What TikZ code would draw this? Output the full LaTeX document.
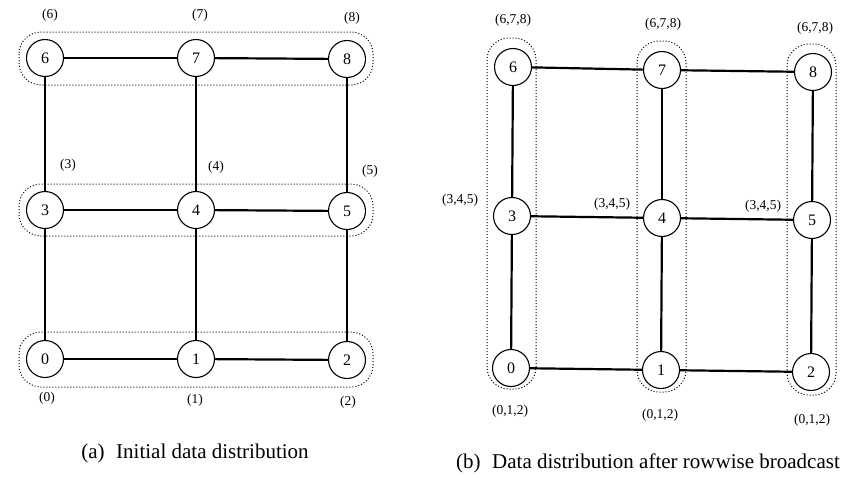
\documentclass[tikz,border=0pt]{standalone}
\usepackage{fontspec}
\setmainfont{Liberation Serif}
\begin{document}
\begin{tikzpicture}[x=1pt,y=-1pt,
  pe/.style={circle, draw, line width=1.1pt, fill=white, minimum size=37pt, inner sep=0pt, font=\fontsize{16}{16}\selectfont},
  link/.style={line width=2.2pt},
  grp/.style={draw, dotted, line width=1pt, rounded corners=22pt},
  lab/.style={font=\fontsize{13.5}{13.5}\selectfont, inner sep=0pt},
  captext/.style={font=\fontsize{21}{21}\selectfont, inner sep=0pt}]
\useasboundingbox (0,0) rectangle (845,477);
% ---------- (a) ----------
\node[pe] (a0) at (45,359) {0};
\node[pe] (a1) at (196,359) {1};
\node[pe] (a2) at (347,360) {2};
\node[pe] (a3) at (45,210) {3};
\node[pe] (a4) at (196,210) {4};
\node[pe] (a5) at (347,211) {5};
\node[pe] (a6) at (45,58) {6};
\node[pe] (a7) at (196,58) {7};
\node[pe] (a8) at (347,59) {8};
\foreach \p/\q in {a0/a1,a1/a2,a3/a4,a4/a5,a6/a7,a7/a8,a0/a3,a3/a6,a1/a4,a4/a7,a2/a5,a5/a8}
  \draw[link] (\p) -- (\q);
\draw[grp] ([shift={(-26,-26)}]a6.center) rectangle ([shift={(26,26)}]a8.center);
\draw[grp] ([shift={(-26,-26)}]a3.center) rectangle ([shift={(26,25)}]a5.center);
\draw[grp] ([shift={(-26,-27)}]a0.center) rectangle ([shift={(26,27)}]a2.center);
\node[lab] (la6) at (50,15) {(6)};
\node[lab] (la7) at (200,15) {(7)};
\node[lab] (la8) at (352,18) {(8)};
\node[lab] (la3) at (68,165) {(3)};
\node[lab] (la4) at (216,167) {(4)};
\node[lab] (la5) at (370,171) {(5)};
\node[lab] (la0) at (47,398) {(0)};
\node[lab] (la1) at (195,400) {(1)};
\node[lab] (la2) at (348,402) {(2)};
\node[captext] (capa) at (195,453) {(a)\hspace{0.55em}Initial data distribution};
% ---------- (b) ----------
\node[pe] (b0) at (511,368) {0};
\node[pe] (b1) at (661,370) {1};
\node[pe] (b2) at (811,372) {2};
\node[pe] (b3) at (512,216) {3};
\node[pe] (b4) at (662,218) {4};
\node[pe] (b5) at (812,220) {5};
\node[pe] (b6) at (513,67) {6};
\node[pe] (b7) at (662,70) {7};
\node[pe] (b8) at (813,72) {8};
\foreach \p/\q in {b0/b1,b1/b2,b3/b4,b4/b5,b6/b7,b7/b8,b0/b3,b3/b6,b1/b4,b4/b7,b2/b5,b5/b8}
  \draw[link] (\p) -- (\q);
\draw[grp] ([shift={(-26,-29)}]b6.center) rectangle ([shift={(25,21)}]b0.center);
\draw[grp] ([shift={(-25,-29)}]b7.center) rectangle ([shift={(25,22)}]b1.center);
\draw[grp] ([shift={(-26,-28)}]b8.center) rectangle ([shift={(25,23)}]b2.center);
\node[lab] (lb6) at (513,20) {(6,7,8)};
\node[lab] (lb7) at (663,24) {(6,7,8)};
\node[lab] (lb8) at (815,28) {(6,7,8)};
\node[lab] (lb3) at (460,200) {(3,4,5)};
\node[lab] (lb4) at (612,204) {(3,4,5)};
\node[lab] (lb5) at (763,206) {(3,4,5)};
\node[lab] (lb0) at (510,411) {(0,1,2)};
\node[lab] (lb1) at (660,415) {(0,1,2)};
\node[lab] (lb2) at (812,420) {(0,1,2)};
\node[captext] (capb) at (648,463) {(b)\hspace{0.55em}Data distribution after rowwise broadcast};
\end{tikzpicture}
\end{document}
